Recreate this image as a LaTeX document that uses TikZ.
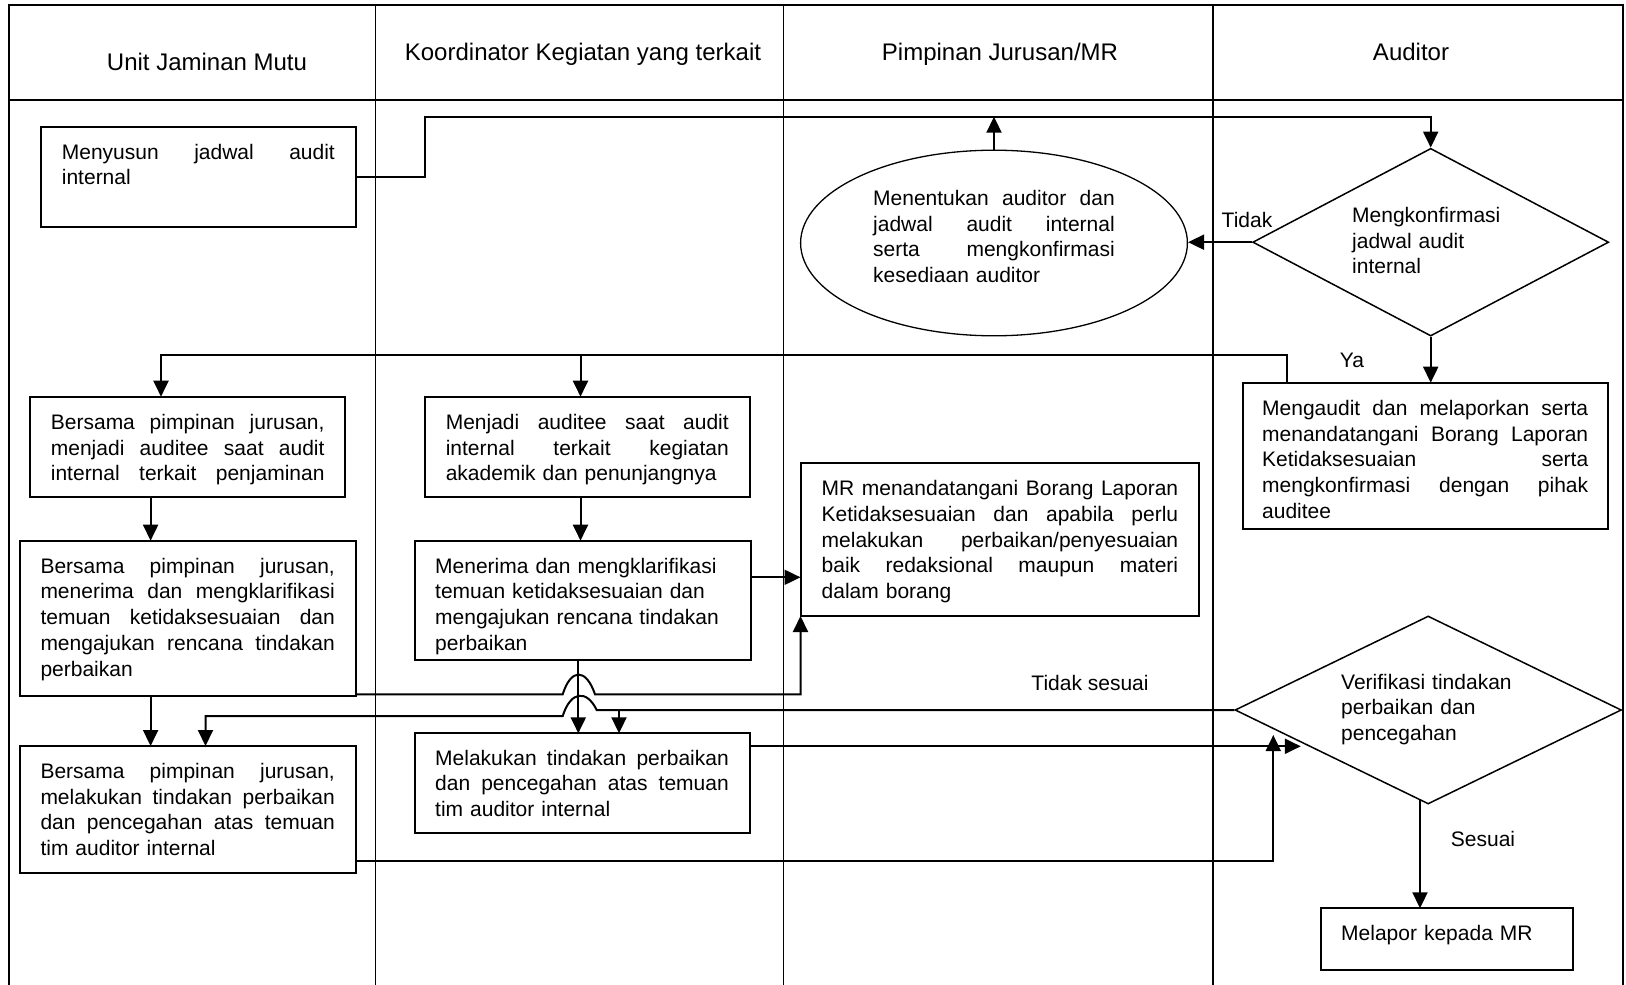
\documentclass[tikz,border=0pt]{standalone}
\usepackage{fontspec}
\setmainfont{Liberation Sans}
\usetikzlibrary{arrows.meta,shapes.geometric,fit}
\newcommand{\jbox}[2]{\hbox to #1{\spaceskip=\fontdimen2\font plus 1fil\relax #2}}
\newcommand{\jl}[2]{\leavevmode\jbox{#1}{#2}\\}
\begin{document}
\begin{tikzpicture}[x=1pt,y=-1pt,
  laneline/.style={line width=1.4pt},
  outerline/.style={line width=2pt},
  pbox/.style={draw, line width=2pt, inner sep=0pt, outer sep=0pt},
  conn/.style={line width=2pt},
  arr/.style={conn, -{Triangle[width=15pt,length=16pt]}},
  txt/.style={inner sep=0pt, anchor=base west, align=left, font=\fontsize{21}{25.7}\selectfont},
  hdr/.style={inner sep=0pt, anchor=base, font=\fontsize{24}{28}\selectfont},
  lbl/.style={inner sep=0pt, anchor=base, font=\fontsize{21}{25.7}\selectfont},
]
\useasboundingbox (0,0) rectangle (1626,985);

% swimlanes
\draw[outerline] (9.4,985) -- (9.4,5) -- (1623,5) -- (1623,985);
\draw[laneline] (9.4,100) -- (1623,100);
\draw[laneline] (375.5,5) -- (375.5,985);
\draw[laneline] (783.5,5) -- (783.5,985);
\draw[laneline] (1213,5) -- (1213,985);

\node[hdr] (h1) at (207,70) {Unit Jaminan Mutu};
\node[hdr] (h2) at (583,60) {Koordinator Kegiatan yang terkait};
\node[hdr] (h3) at (1000,60) {Pimpinan Jurusan/MR};
\node[hdr] (h4) at (1411,60) {Auditor};

% shapes
\node[pbox, fit={(40.8,126.7) (355.6,227.3)}] (n1) {};
\node[pbox, fit={(1242.5,382.7) (1608.4,529.3)}] (m1) {};
\node[pbox, fit={(29.8,396.7) (345.2,496.7)}] (b1) {};
\node[pbox, fit={(425.2,396.7) (749.5,496.7)}] (j1) {};
\node[pbox, fit={(800.5,462.7) (1199.3,616)}] (mr) {};
\node[pbox, fit={(19.9,540.7) (355.6,696)}] (b2) {};
\node[pbox, fit={(414.7,540.7) (750.5,660)}] (r1) {};
\node[pbox, fit={(414.7,733.3) (749.5,832.7)}] (m2) {};
\node[pbox, fit={(19.9,746) (355.6,872.7)}] (b3) {};
\node[pbox, fit={(1321,908.3) (1573.3,970)}] (mp) {};
\node[draw, ellipse, line width=1.3pt, minimum width=386.8pt, minimum height=185.6pt, inner sep=0pt] (el) at (994,243) {};
\node[draw, diamond, line width=1.5pt, minimum width=356pt, minimum height=187.7pt, inner sep=0pt] (d1) at (1430.7,242.2) {};
\node[draw, diamond, line width=1.5pt, minimum width=386.4pt, minimum height=188pt, inner sep=0pt] (d2) at (1428.2,710) {};

% texts
\node[txt, text width=280pt] (t1) at (61.7,159.2) {\jl{273pt}{Menyusun jadwal audit}internal};
\node[txt, text width=250pt] (tel) at (873,205.5) {\jl{241.6pt}{Menentukan auditor dan}\jl{241.6pt}{jadwal audit internal}\jl{241.6pt}{serta mengkonfirmasi}kesediaan auditor};
\node[txt, text width=250pt] (td1) at (1352,222.5) {Mengkonfirmasi\\jadwal audit\\internal};
\node[txt, text width=335pt] (tm1) at (1262,415.5) {\jl{326pt}{Mengaudit dan melaporkan serta}\jl{326pt}{menandatangani Borang Laporan}\jl{326pt}{Ketidaksesuaian serta}\jl{326pt}{mengkonfirmasi dengan pihak}auditee};
\node[txt, text width=280pt] (tb1) at (50.7,429.3) {\jl{273.6pt}{Bersama pimpinan jurusan,}\jl{273.6pt}{menjadi auditee saat audit}\leavevmode\jbox{273.6pt}{internal terkait penjaminan}};
\node[txt, text width=290pt] (tj1) at (445.6,429.3) {\jl{283pt}{Menjadi auditee saat audit}\jl{283pt}{internal terkait kegiatan}akademik dan penunjangnya};
\node[txt, text width=365pt] (tmr) at (821.5,495.8) {\jl{356.5pt}{MR menandatangani Borang Laporan}\jl{356.5pt}{Ketidaksesuaian dan apabila perlu}\jl{356.5pt}{melakukan perbaikan/penyesuaian}\jl{356.5pt}{baik redaksional maupun materi}dalam borang};
\node[txt, text width=300pt] (tb2) at (40.3,573.2) {\jl{294.4pt}{Bersama pimpinan jurusan,}\jl{294.4pt}{menerima dan mengklarifikasi}\jl{294.4pt}{temuan ketidaksesuaian dan}\jl{294.4pt}{mengajukan rencana tindakan}perbaikan};
\node[txt, text width=300pt] (tr1) at (435,573.2) {Menerima dan mengklarifikasi\\temuan ketidaksesuaian dan\\mengajukan rencana tindakan\\perbaikan};
\node[txt, text width=300pt] (tm2) at (435,765.2) {\jl{293.6pt}{Melakukan tindakan perbaikan}\jl{293.6pt}{dan pencegahan atas temuan}tim auditor internal};
\node[txt, text width=300pt] (tb3) at (40.3,778.5) {\jl{294.4pt}{Bersama pimpinan jurusan,}\jl{294.4pt}{melakukan tindakan perbaikan}\jl{294.4pt}{dan pencegahan atas temuan}tim auditor internal};
\node[txt, text width=260pt] (td2) at (1341,689.2) {Verifikasi tindakan\\perbaikan dan\\pencegahan};
\node[txt, text width=220pt] (tmp) at (1341,940.8) {Melapor kepada MR};

% labels
\node[lbl] (l1) at (1247,227.5) {Tidak};
\node[lbl] (l2) at (1352,367.5) {Ya};
\node[lbl] (l3) at (1090,690.8) {Tidak sesuai};
\node[lbl] (l4) at (1483,846.5) {Sesuai};

% connectors
\coordinate (p1) at (424.7,116.7);
\draw[arr] (n1.east) -| (p1) -| (d1.north);
\draw[arr] (el.north) -- (el.north |- p1);
\draw[arr] (d1.west) -- (d1.west -| el.east);
\draw[arr] (d1.south) -- (d1.south |- m1.north);

\coordinate (p2) at (1287,355);
\coordinate (p3) at (161,355);
\coordinate (p4) at (580.5,355);
\draw[arr] (m1.north -| p2) -- (p2) -- (p3) -- (p3 |- b1.north);
\draw[arr] (p4) -- (p4 |- j1.north);

\coordinate (xa) at (150.6,0);
\draw[arr] (b1.south -| xa) -- (b2.north -| xa);
\draw[arr] (b2.south -| xa) -- (b3.north -| xa);
\coordinate (xb) at (580.5,0);
\draw[arr] (j1.south -| xb) -- (r1.north -| xb);
\coordinate (yc) at (0,577.3);
\draw[arr] (r1.east |- yc) -- (mr.west |- yc);

\coordinate (xd) at (578.3,0);
\draw[arr] (r1.south -| xd) -- (m2.north -| xd);

\coordinate (q1) at (562.7,694.3);
\coordinate (q2) at (595,694.3);
\coordinate (q3) at (800.5,694.3);
\draw[arr] (b2.east |- q1) -- (q1) .. controls (571,668) and (586,668) .. (q2) -- (q3) -- (mr.south west);

\coordinate (s1) at (596.7,710);
\coordinate (s2) at (562.7,716);
\coordinate (s3) at (205.5,716);
\coordinate (s4) at (619,710);
\draw[arr] (d2.west) -- (s1) .. controls (587,690) and (571,690) .. (s2) -- (s3) -- (s3 |- b3.north);
\draw[arr] (s4) -- (s4 |- m2.north);

\coordinate (e1) at (1300.8,746.3);
\draw[arr] (m2.east |- e1) -- (e1);
\coordinate (e2) at (1273.3,735);
\coordinate (e3) at (0,860.7);
\draw[arr] (b3.east |- e3) -| (e2);
\coordinate (e4) at (1420,800);
\draw[arr] (e4) -- (e4 |- mp.north);
\end{tikzpicture}
\end{document}
